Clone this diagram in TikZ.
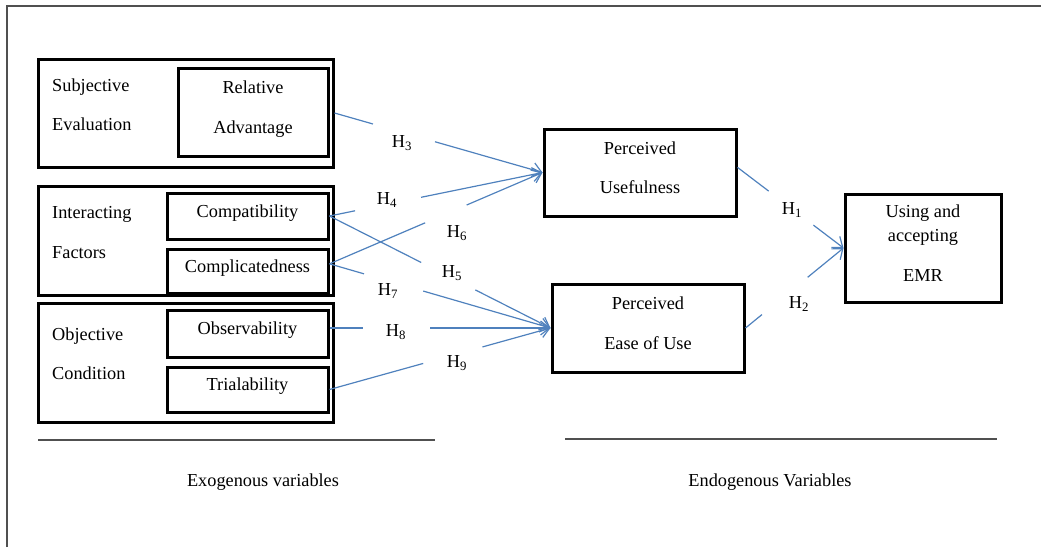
\documentclass[tikz,border=0pt]{standalone}
\usepackage{fontspec}
\setmainfont{Liberation Serif}
\usetikzlibrary{arrows.meta,calc}
\definecolor{linkblue}{RGB}{79,129,189}
\definecolor{rulegray}{RGB}{80,80,80}

\begin{document}
\begin{tikzpicture}[x=1pt,y=-1pt,font=\fontsize{18.3}{39.4}\selectfont,
    group box/.style={draw,line width=3pt,minimum width=295pt,inner sep=0pt},
    var box/.style={draw,line width=3pt,align=center,inner sep=0pt,text depth=10pt},
    group text/.style={anchor=west,align=left,inner sep=0pt},
    hyp/.style={inner sep=1pt},
    link/.style={draw=linkblue,line width=1.2pt},
    tip/.style={-{Straight Barb[length=9pt,width=14pt]}}]
    \useasboundingbox (0,0) rectangle (1041,547);
    \draw[rulegray,line width=1.5pt] (7,547) -- (7,6) -- (1041,6);

    % exogenous side
    \node[group box,minimum height=108pt] (sub) at (185.5,113) {};
    \node[group box,minimum height=109pt] (intf) at (185.5,240.5) {};
    \node[group box,minimum height=119pt] (obj) at (185.5,362.5) {};
    \node[group text] at (52,104.5) {Subjective\\Evaluation};
    \node[group text] at (52,232.5) {Interacting\\Factors};
    \node[group text] at (52,353.5) {Objective\\Condition};

    \node[var box,minimum width=150pt,minimum height=88pt] (ra) at (253,112) {Relative\\Advantage};
    \node[var box,minimum width=161pt,minimum height=46pt] (cp) at (247.5,216) {Compatibility};
    \node[var box,minimum width=161pt,minimum height=44pt] (cx) at (247.5,271) {Complicatedness};
    \node[var box,minimum width=161pt,minimum height=47pt] (obs) at (247.5,333.5) {Observability};
    \node[var box,minimum width=161pt,minimum height=45pt] (tri) at (247.5,389.5) {Trialability};

    % endogenous side
    \node[var box,minimum width=192pt,minimum height=87pt] (pu) at (640,172.5) {Perceived\\Usefulness};
    \node[var box,minimum width=192pt,minimum height=88pt] (peu) at (648,328) {Perceived\\Ease of Use};
    \node[var box,minimum width=156pt,minimum height=108pt] (emr) at (923,248) {Using and\\[-15pt]accepting\\EMR};

    % hypotheses
    \foreach \src/\dst/\ga/\gb in {sub.east/pu.west/0.185/0.483, cp.east/pu.west/0.12/0.43,
        cx.5/pu.west/0.449/0.644, cp.east/peu.west/0.415/0.66, cx.5/peu.west/0.156/0.424,
        peu.west -| obs.east/peu.west/0.152/0.455, tri.east/peu.west/0.424/0.692,
        pu.3/emr.west/0.294/0.716, peu.east/emr.west/0.168/0.634}
    {
        \draw[link] (\src) -- ($(\src)!\ga!(\dst)$);
        \draw[link,tip] ($(\src)!\gb!(\dst)$) -- (\dst);
    }
    \node[hyp] (h1) at (792,210) {H\textsubscript{1}};
    \node[hyp] (h2) at (799,304) {H\textsubscript{2}};
    \node[hyp] (h3) at (402,143) {H\textsubscript{3}};
    \node[hyp] (h4) at (387,200) {H\textsubscript{4}};
    \node[hyp] (h5) at (452,273) {H\textsubscript{5}};
    \node[hyp] (h6) at (457,233) {H\textsubscript{6}};
    \node[hyp] (h7) at (388,291) {H\textsubscript{7}};
    \node[hyp] (h8) at (396,332) {H\textsubscript{8}};
    \node[hyp] (h9) at (457,363) {H\textsubscript{9}};

    \draw[rulegray,line width=1.2pt] (38,440) -- (435,440);
    \draw[rulegray,line width=1.2pt] (565,439) -- (997,439);
    \node (exo) at (263,482) {Exogenous variables};
    \node (endo) at (770,482) {Endogenous Variables};
\end{tikzpicture}
\end{document}
